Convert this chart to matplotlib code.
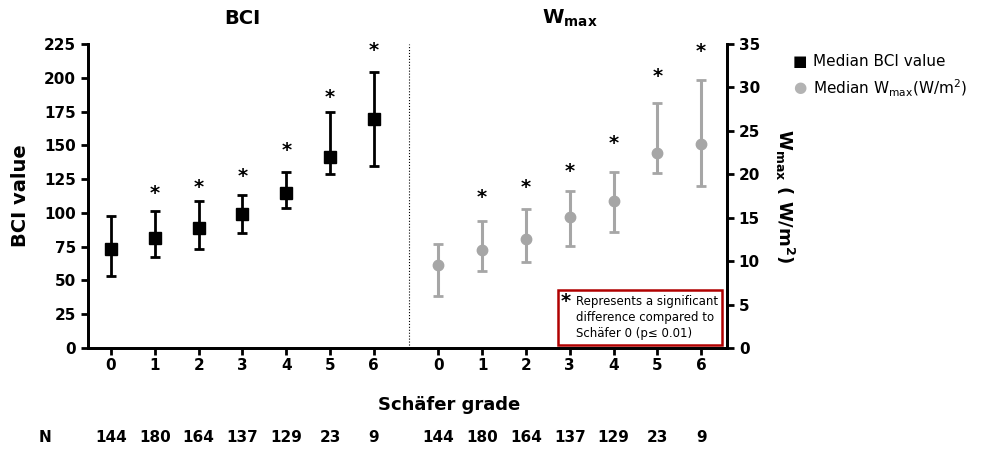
import matplotlib.pyplot as plt
from matplotlib.patches import Rectangle
from matplotlib.transforms import blended_transform_factory

# Schafer grades and group sizes
grades = [0, 1, 2, 3, 4, 5, 6]
n_counts = [144, 180, 164, 137, 129, 23, 9]

# BCI medians with error bar ends
bci_med = [73, 81.5, 88.5, 99, 115, 141.5, 169.5]
bci_low = [53.5, 67, 73.5, 85, 103.5, 129, 135]
bci_high = [97.5, 101.5, 108.5, 113.5, 130.5, 175, 204.5]
bci_star = [None, 114, 119, 127, 146, 185.5, 220]

# Wmax medians with error bar ends
w_med = [9.5, 11.3, 12.5, 15.1, 16.9, 22.5, 23.5]
w_low = [6.0, 8.9, 9.9, 11.7, 13.3, 20.1, 18.7]
w_high = [12.0, 14.6, 16.0, 18.1, 20.3, 28.2, 30.9]
w_star = [None, 17.3, 18.5, 20.3, 23.6, 31.3, 34.1]

offset = 7.47   # x shift of the Wmax group
divider = 6.8
grey = '#a6a6a6'
W, H = 993, 449

fig = plt.figure(figsize=(9.93, 4.49), dpi=100)
ax = fig.add_axes([88/W, 1-348/H, (727-88)/W, (348-44)/H])
ax2 = ax.twinx()

# BCI group
xb = grades
ax.errorbar(xb, bci_med,
            yerr=[[m-l for m, l in zip(bci_med, bci_low)], [h-m for m, h in zip(bci_med, bci_high)]],
            fmt='s', color='black', ms=8, elinewidth=2, capsize=3.5, capthick=2, zorder=3)
for x, s in zip(xb, bci_star):
    if s is not None:
        ax.text(x, s, '*', ha='center', va='center', fontsize=14, fontweight='bold')

# Wmax group
xw = [g + offset for g in grades]
ax2.errorbar(xw, w_med,
             yerr=[[m-l for m, l in zip(w_med, w_low)], [h-m for m, h in zip(w_med, w_high)]],
             fmt='o', color=grey, ms=7.5, elinewidth=2.2, capsize=3.5, capthick=2, zorder=3)
for x, s in zip(xw, w_star):
    if s is not None:
        ax2.text(x, s, '*', ha='center', va='center', fontsize=14, fontweight='bold')

ax.axvline(divider, color='black', lw=0.8, ls=':')

ax.set_xlim(-0.525, 14.06)
ax.set_ylim(0, 225)
ax2.set_ylim(0, 35)
ax.set_yticks(range(0, 226, 25))
ax2.set_yticks(range(0, 36, 5))
ax.set_xticks(xb + xw)
ax.set_xticklabels([str(g) for g in grades] * 2)

for a in (ax, ax2):
    a.spines['top'].set_visible(False)
    for sp in ('left', 'right', 'bottom'):
        a.spines[sp].set_linewidth(2)
    a.tick_params(width=2, length=5, labelsize=11, direction='out')
    for lbl in a.get_yticklabels() + a.get_xticklabels():
        lbl.set_fontweight('bold')
ax.tick_params(axis='x', pad=2)

ax.set_ylabel('BCI value', fontsize=14, fontweight='bold', labelpad=10)
ax2.set_ylabel(r'$\mathbf{W_{max}}$ ( W/m$^\mathbf{2}$)', fontsize=13, fontweight='bold',
               rotation=-90, labelpad=26)

ax.text(3, 244, 'BCI', ha='center', va='center', fontsize=14, fontweight='bold')
ax.text(3 + offset, 244, r'W$_\mathregular{max}$', ha='center', va='center', fontsize=14,
        fontweight='bold')

fig.text(449/W, 1-405/H, 'Schäfer grade', ha='center', va='center', fontsize=13,
         fontweight='bold')

tr = blended_transform_factory(ax.transData, fig.transFigure)
fig.text(45/W, 1-438/H, 'N', ha='center', va='center', fontsize=11, fontweight='bold')
for x, n in zip(xb + xw, n_counts * 2):
    ax.text(x, 1-438/H, str(n), transform=tr, ha='center', va='center', fontsize=11,
            fontweight='bold', clip_on=False)

# legend
fig.text(800/W, 1-61/H, '■', ha='center', va='center', fontsize=11)
fig.text(813/W, 1-61/H, 'Median BCI value', ha='left', va='center', fontsize=11)
fig.text(800/W, 1-88/H, '●', ha='center', va='center', fontsize=11, color='#b3b3b3')
fig.text(813/W, 1-88/H, r'Median W$_\mathregular{max}$(W/m$^\mathregular{2}$)', ha='left',
         va='center', fontsize=11)

# significance note
fig.add_artist(Rectangle((558/W, 1-345/H), (722-558)/W, (345-290)/H, transform=fig.transFigure,
                         fc='white', ec='#b00000', lw=1.8, zorder=5))
fig.text(566/W, 1-301/H, '*', ha='center', va='center', fontsize=14, fontweight='bold', zorder=6)
note = ['Represents a significant', 'difference compared to', 'Schäfer 0 (p\u2264 0.01)']
for i, line in enumerate(note):
    fig.text(576/W, 1-(302 + 16*i)/H, line, ha='left', va='center', fontsize=8.5, zorder=6)

fig.savefig('out.png', dpi=100)
